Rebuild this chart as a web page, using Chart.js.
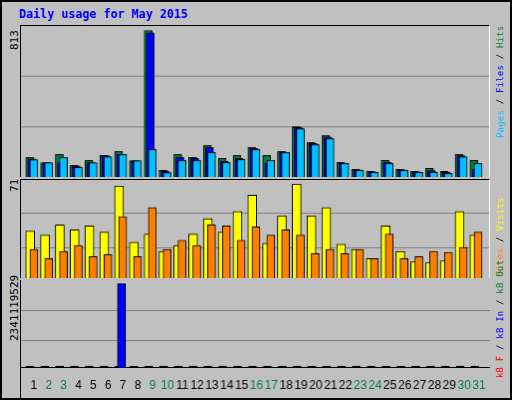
<!DOCTYPE html>
<html><head><meta charset="utf-8">
<script src="https://cdn.jsdelivr.net/npm/chart.js@4"></script>
<style>
html,body{margin:0;padding:0;}
body{width:512px;height:400px;background:#C0C0C0;position:relative;overflow:hidden;font-family:"DejaVu Sans Mono",monospace;}
#frame{position:absolute;left:0;top:0;width:508px;height:396px;border:2px solid #000;}
.c{position:absolute;left:20px;}
.t{position:absolute;font-size:11px;white-space:nowrap;transform-origin:0 0;transform:rotate(-90deg);}
.r{font-size:9px;letter-spacing:0.2px;}
#title{position:absolute;left:19px;top:7px;color:#0000FF;font-weight:bold;font-size:11.7px;}
</style></head><body>
<div id="frame"></div>
<div id="title">Daily usage for May 2015</div>
<canvas id="c1" class="c" style="top:25px;border-top:1px solid #000;border-left:1px solid #000;border-right:1px solid #fff"></canvas>
<canvas id="c2" class="c" style="top:179px;border-top:1px solid #000;border-left:1px solid #000;border-right:1px solid #fff"></canvas>
<canvas id="c3" class="c" style="top:280px;border-left:1px solid #000"></canvas>
<div class="t" style="left:8px;top:50px;">813</div>
<div class="t" style="left:8px;top:192px;">71</div>
<div class="t" style="left:8px;top:341px;">2341119529</div>
<div class="t r" style="left:495px;top:138px;"><span style="color:#00C0FF">Pages</span> / <span style="color:#0000FF">Files</span> / <span style="color:#008040">Hits</span></div>
<div class="t r" style="left:495px;top:276px;"><span style="color:#FF8000">Sites</span> / <span style="color:#FFFF00">Visits</span></div>
<div class="t r" style="left:495px;top:378px;"><span style="color:#FF0000">kB F</span> / <span style="color:#0000FF">kB In</span> / <span style="color:#008040">kB Out</span></div>
<script>
const days=["1","2","3","4","5","6","7","8","9","10","11","12","13","14","15","16","17","18","19","20","21","22","23","24","25","26","27","28","29","30","31"];
const weekend=[2,3,9,10,16,17,23,24,30,31];
const hits=[108,79,125,64,92,119,142,90,813,37,125,108,175,103,119,164,119,142,279,191,230,81,42,31,92,42,31,48,31,125,92];
const files=[100,79,79,61,79,118,125,90,801,31,108,103,164,86,103,158,75,138,274,186,221,77,39,28,81,39,29,35,26,118,42];
const pages=[96,79,108,53,79,112,125,90,153,24,92,92,136,81,97,153,92,136,268,180,213,75,37,26,75,37,26,26,20,112,75];
const visits=[35.5,32.4,40.1,36.3,39.4,34.7,69.4,27,33.2,20.1,24.7,33.2,44.8,34.7,50.2,62.5,26.2,47.1,71,47.1,53.2,25.5,21.6,14.7,39.4,20.1,12.3,11.6,13.1,50.2,32.4];
const sites=[21.6,14.7,20.1,24.7,16.2,17.7,46.3,16.2,53.2,21.6,28.5,24.7,40.1,39.4,28.5,38.6,32.4,36.3,32.4,18.5,21.6,18.5,21.6,14.7,33.2,14.7,16.2,20.1,19.3,23.1,34.7];
const kbIn=[0,0,0,0,0,0,2341119529,0,0,0,0,0,0,0,0,0,0,0,0,0,0,0,0,0,0,0,0,0,0,0,0];
const kbF=[45e6,45e6,45e6,45e6,45e6,45e6,45e6,45e6,45e6,45e6,45e6,45e6,45e6,45e6,45e6,45e6,45e6,45e6,45e6,45e6,45e6,45e6,45e6,45e6,45e6,45e6,45e6,45e6,45e6,45e6,45e6];

function pts(arr,off){return arr.map((v,i)=>({x:i+1+off,y:v}));}
function ds(arr,off,color,w,order){return{data:pts(arr,off),backgroundColor:color,borderColor:'#000',borderWidth:1,borderSkipped:'bottom',barThickness:w,grouped:false,order:order};}
function make(id,sets,ymax,grid,showX){
  const cv=document.getElementById(id);
  return new Chart(cv,{type:'bar',data:{datasets:sets},options:{
    responsive:false,animation:false,devicePixelRatio:1,
    layout:{padding:{left:0,right:0,top:0,bottom:showX?4:0}},
    plugins:{legend:{display:false},tooltip:{enabled:false}},
    scales:{
      x:{type:'linear',min:0.13,max:31.74,offset:false,display:showX,
        grid:{display:false},border:{display:true,color:'#000'},
        afterBuildTicks:s=>{s.ticks=days.map((d,i)=>({value:i+1}));},
        ticks:{padding:3,autoSkip:false,maxRotation:0,font:{family:'Liberation Sans',size:12},
          callback:(v)=>days[v-1],
          color:c=>weekend.includes(c.tick.value)?'#008040':'#000'}},
      y:{min:0,max:ymax,
        afterBuildTicks:s=>{s.ticks=grid.map(v=>({value:v}));},
        afterFit:s=>{s.width=0;},
        ticks:{display:false},border:{display:false},
        grid:{color:'#808080',lineWidth:1,drawTicks:false}}
    }}});
}
function size(id,w,h){const c=document.getElementById(id);c.width=w;c.height=h;c.style.width=w+'px';c.style.height=h+'px';}
size('c1',470,152);size('c2',470,99);size('c3',470,120);
make('c1',[ds(hits,-0.28,'#008040',8,3),ds(files,-0.14,'#0000FF',8,2),ds(pages,0,'#00C0FF',8,1)],838,[276,557],false);
make('c2',[ds(visits,-0.25,'#FFFF00',9,2),ds(sites,0,'#FF8000',8,1)],74,[23.1,48.6],false);
const M3=2341119529*95/91;
make('c3',[ds(kbF,-0.27,'#000000',8,2),ds(kbIn,-0.1,'#0000FF',8,1)],M3,[M3*0.305,M3*0.653],true);
</script></body></html>
